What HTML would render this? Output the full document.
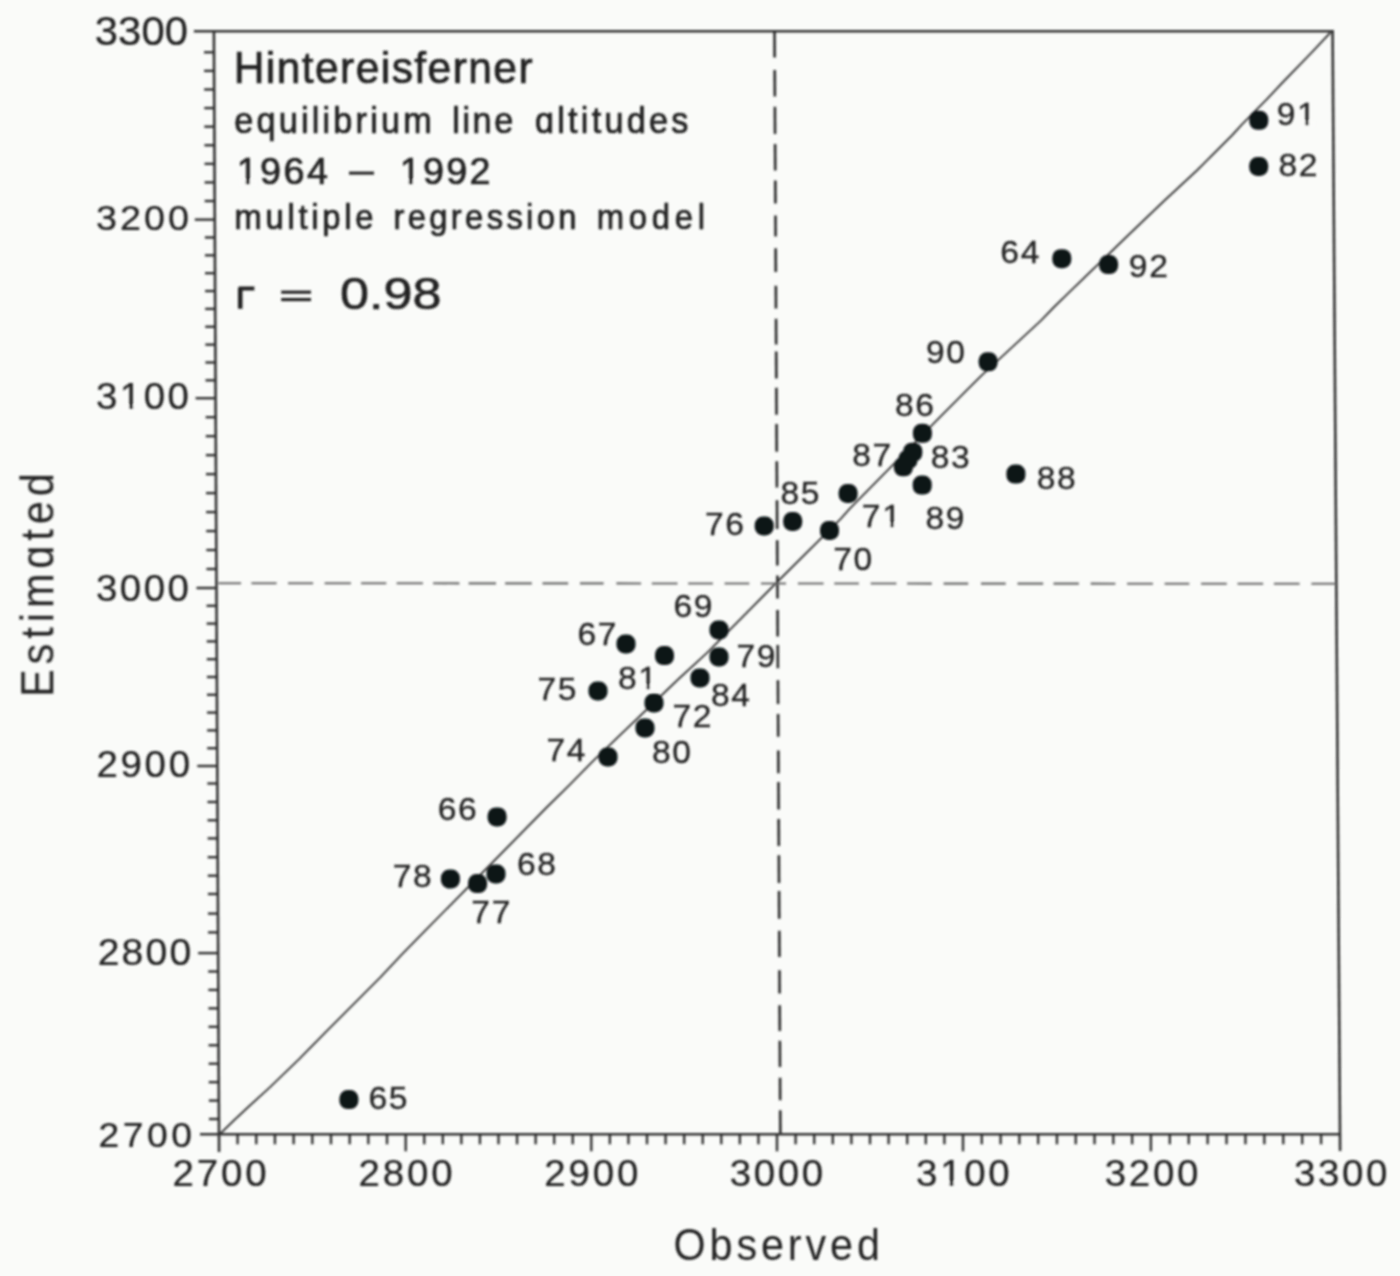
<!DOCTYPE html>
<html><head><meta charset="utf-8"><style>
html,body{margin:0;padding:0;background:#fafbf9;}
body{width:1400px;height:1276px;overflow:hidden;font-family:"Liberation Sans",sans-serif;}
svg{display:block;}
</style></head><body>
<svg width="1400" height="1276" viewBox="0 0 1400 1276">
<defs><filter id="blur" x="0" y="0" width="100%" height="100%" filterUnits="userSpaceOnUse"><feGaussianBlur stdDeviation="0.8"/></filter></defs>
<rect width="1400" height="1276" fill="#fafbf9"/>
<g id="all" filter="url(#blur)">
<g stroke="#303030" stroke-width="2.6" stroke-linecap="butt" fill="none">
<line x1="213.89" y1="30.00" x2="219.08" y2="1152"/>
<line x1="1332.59" y1="30.00" x2="1340.11" y2="1151"/>
<line x1="193.90" y1="31.2" x2="1333.60" y2="31.2"/>
<line x1="200.00" y1="1134.3" x2="1341.00" y2="1134.3"/>
</g>
<g stroke="#303030" stroke-width="2.4" fill="none">
<line x1="208.93" y1="1119.02" x2="218.93" y2="1119.02"/>
<line x1="208.84" y1="1100.58" x2="218.84" y2="1100.58"/>
<line x1="208.76" y1="1082.14" x2="218.76" y2="1082.14"/>
<line x1="208.67" y1="1063.70" x2="218.67" y2="1063.70"/>
<line x1="208.59" y1="1045.26" x2="218.59" y2="1045.26"/>
<line x1="208.50" y1="1026.82" x2="218.50" y2="1026.82"/>
<line x1="208.42" y1="1008.38" x2="218.42" y2="1008.38"/>
<line x1="208.33" y1="989.94" x2="218.33" y2="989.94"/>
<line x1="208.25" y1="971.50" x2="218.25" y2="971.50"/>
<line x1="198.16" y1="953.10" x2="218.16" y2="953.10"/>
<line x1="208.07" y1="932.40" x2="218.07" y2="932.40"/>
<line x1="207.98" y1="913.60" x2="217.98" y2="913.60"/>
<line x1="207.89" y1="894.00" x2="217.89" y2="894.00"/>
<line x1="207.80" y1="875.70" x2="217.80" y2="875.70"/>
<line x1="207.72" y1="857.20" x2="217.72" y2="857.20"/>
<line x1="207.63" y1="838.40" x2="217.63" y2="838.40"/>
<line x1="207.55" y1="820.30" x2="217.55" y2="820.30"/>
<line x1="207.46" y1="802.00" x2="217.46" y2="802.00"/>
<line x1="207.38" y1="783.50" x2="217.38" y2="783.50"/>
<line x1="197.30" y1="766.00" x2="217.30" y2="766.00"/>
<line x1="207.21" y1="748.20" x2="217.21" y2="748.20"/>
<line x1="207.13" y1="730.40" x2="217.13" y2="730.40"/>
<line x1="207.05" y1="712.60" x2="217.05" y2="712.60"/>
<line x1="206.97" y1="694.80" x2="216.97" y2="694.80"/>
<line x1="206.89" y1="677.00" x2="216.89" y2="677.00"/>
<line x1="206.80" y1="659.20" x2="216.80" y2="659.20"/>
<line x1="206.72" y1="641.40" x2="216.72" y2="641.40"/>
<line x1="206.64" y1="623.60" x2="216.64" y2="623.60"/>
<line x1="206.56" y1="605.80" x2="216.56" y2="605.80"/>
<line x1="196.47" y1="588.00" x2="216.47" y2="588.00"/>
<line x1="206.39" y1="569.02" x2="216.39" y2="569.02"/>
<line x1="206.30" y1="550.04" x2="216.30" y2="550.04"/>
<line x1="206.21" y1="531.06" x2="216.21" y2="531.06"/>
<line x1="206.12" y1="512.08" x2="216.12" y2="512.08"/>
<line x1="206.04" y1="493.10" x2="216.04" y2="493.10"/>
<line x1="205.95" y1="474.12" x2="215.95" y2="474.12"/>
<line x1="205.86" y1="455.14" x2="215.86" y2="455.14"/>
<line x1="205.77" y1="436.16" x2="215.77" y2="436.16"/>
<line x1="205.68" y1="417.18" x2="215.68" y2="417.18"/>
<line x1="195.60" y1="398.20" x2="215.60" y2="398.20"/>
<line x1="205.51" y1="380.34" x2="215.51" y2="380.34"/>
<line x1="205.43" y1="362.48" x2="215.43" y2="362.48"/>
<line x1="205.35" y1="344.62" x2="215.35" y2="344.62"/>
<line x1="205.27" y1="326.76" x2="215.27" y2="326.76"/>
<line x1="205.18" y1="308.90" x2="215.18" y2="308.90"/>
<line x1="205.10" y1="291.04" x2="215.10" y2="291.04"/>
<line x1="205.02" y1="273.18" x2="215.02" y2="273.18"/>
<line x1="204.94" y1="255.32" x2="214.94" y2="255.32"/>
<line x1="204.85" y1="237.46" x2="214.85" y2="237.46"/>
<line x1="194.77" y1="219.60" x2="214.77" y2="219.60"/>
<line x1="204.69" y1="201.02" x2="214.69" y2="201.02"/>
<line x1="204.60" y1="182.43" x2="214.60" y2="182.43"/>
<line x1="204.51" y1="163.84" x2="214.51" y2="163.84"/>
<line x1="204.43" y1="145.25" x2="214.43" y2="145.25"/>
<line x1="204.34" y1="126.66" x2="214.34" y2="126.66"/>
<line x1="204.26" y1="108.07" x2="214.26" y2="108.07"/>
<line x1="204.17" y1="89.48" x2="214.17" y2="89.48"/>
<line x1="204.08" y1="70.89" x2="214.08" y2="70.89"/>
<line x1="204.00" y1="52.30" x2="214.00" y2="52.30"/>
<line x1="237.58" y1="1134.30" x2="237.58" y2="1144.30"/>
<line x1="256.26" y1="1134.30" x2="256.26" y2="1144.30"/>
<line x1="274.94" y1="1134.30" x2="274.94" y2="1144.30"/>
<line x1="293.62" y1="1134.30" x2="293.62" y2="1144.30"/>
<line x1="312.30" y1="1134.30" x2="312.30" y2="1144.30"/>
<line x1="330.98" y1="1134.30" x2="330.98" y2="1144.30"/>
<line x1="349.66" y1="1134.30" x2="349.66" y2="1144.30"/>
<line x1="368.34" y1="1134.30" x2="368.34" y2="1144.30"/>
<line x1="387.02" y1="1134.30" x2="387.02" y2="1144.30"/>
<line x1="405.70" y1="1134.30" x2="405.70" y2="1151.30"/>
<line x1="424.26" y1="1134.30" x2="424.26" y2="1144.30"/>
<line x1="442.82" y1="1134.30" x2="442.82" y2="1144.30"/>
<line x1="461.38" y1="1134.30" x2="461.38" y2="1144.30"/>
<line x1="479.94" y1="1134.30" x2="479.94" y2="1144.30"/>
<line x1="498.50" y1="1134.30" x2="498.50" y2="1144.30"/>
<line x1="517.06" y1="1134.30" x2="517.06" y2="1144.30"/>
<line x1="535.62" y1="1134.30" x2="535.62" y2="1144.30"/>
<line x1="554.18" y1="1134.30" x2="554.18" y2="1144.30"/>
<line x1="572.74" y1="1134.30" x2="572.74" y2="1144.30"/>
<line x1="591.30" y1="1134.30" x2="591.30" y2="1151.30"/>
<line x1="609.87" y1="1134.30" x2="609.87" y2="1144.30"/>
<line x1="628.44" y1="1134.30" x2="628.44" y2="1144.30"/>
<line x1="647.01" y1="1134.30" x2="647.01" y2="1144.30"/>
<line x1="665.58" y1="1134.30" x2="665.58" y2="1144.30"/>
<line x1="684.15" y1="1134.30" x2="684.15" y2="1144.30"/>
<line x1="702.72" y1="1134.30" x2="702.72" y2="1144.30"/>
<line x1="721.29" y1="1134.30" x2="721.29" y2="1144.30"/>
<line x1="739.86" y1="1134.30" x2="739.86" y2="1144.30"/>
<line x1="758.43" y1="1134.30" x2="758.43" y2="1144.30"/>
<line x1="777.00" y1="1134.30" x2="777.00" y2="1151.30"/>
<line x1="795.60" y1="1134.30" x2="795.60" y2="1144.30"/>
<line x1="814.20" y1="1134.30" x2="814.20" y2="1144.30"/>
<line x1="832.80" y1="1134.30" x2="832.80" y2="1144.30"/>
<line x1="851.40" y1="1134.30" x2="851.40" y2="1144.30"/>
<line x1="870.00" y1="1134.30" x2="870.00" y2="1144.30"/>
<line x1="888.60" y1="1134.30" x2="888.60" y2="1144.30"/>
<line x1="907.20" y1="1134.30" x2="907.20" y2="1144.30"/>
<line x1="925.80" y1="1134.30" x2="925.80" y2="1144.30"/>
<line x1="944.40" y1="1134.30" x2="944.40" y2="1144.30"/>
<line x1="963.00" y1="1134.30" x2="963.00" y2="1151.30"/>
<line x1="981.79" y1="1134.30" x2="981.79" y2="1144.30"/>
<line x1="1000.58" y1="1134.30" x2="1000.58" y2="1144.30"/>
<line x1="1019.37" y1="1134.30" x2="1019.37" y2="1144.30"/>
<line x1="1038.16" y1="1134.30" x2="1038.16" y2="1144.30"/>
<line x1="1056.95" y1="1134.30" x2="1056.95" y2="1144.30"/>
<line x1="1075.74" y1="1134.30" x2="1075.74" y2="1144.30"/>
<line x1="1094.53" y1="1134.30" x2="1094.53" y2="1144.30"/>
<line x1="1113.32" y1="1134.30" x2="1113.32" y2="1144.30"/>
<line x1="1132.11" y1="1134.30" x2="1132.11" y2="1144.30"/>
<line x1="1150.90" y1="1134.30" x2="1150.90" y2="1151.30"/>
<line x1="1169.81" y1="1134.30" x2="1169.81" y2="1144.30"/>
<line x1="1188.72" y1="1134.30" x2="1188.72" y2="1144.30"/>
<line x1="1207.63" y1="1134.30" x2="1207.63" y2="1144.30"/>
<line x1="1226.54" y1="1134.30" x2="1226.54" y2="1144.30"/>
<line x1="1245.45" y1="1134.30" x2="1245.45" y2="1144.30"/>
<line x1="1264.36" y1="1134.30" x2="1264.36" y2="1144.30"/>
<line x1="1283.27" y1="1134.30" x2="1283.27" y2="1144.30"/>
<line x1="1302.18" y1="1134.30" x2="1302.18" y2="1144.30"/>
<line x1="1321.09" y1="1134.30" x2="1321.09" y2="1144.30"/>
</g>
<polyline points="219.6,1133.6 222.5,1131.5 234.6,1119.8 249.6,1105.7 269.8,1087.4 299.1,1059.1 326.4,1031.4 380.3,977.4 402.4,953.9 426.4,929.4 546.6,807.5 570.1,784.4 592.7,761.4 678.8,678.8 707,652.9 776.2,583 840.7,518.8 849.1,509.4 941.9,415.1 954.1,402.9 967.3,389.7 981.4,375.6 1040.9,320.6 1054.1,307 1069.1,292.4 1130,233.5 1163.7,201.3 1178.8,187.3 1197.4,170 1206.5,160.9 1231.9,135.5 1241.8,124.7 1266.7,99.3 1284,81 1310.6,53.6 1330.5,32.5" fill="none" stroke="#3a3a3a" stroke-width="1.9" stroke-linejoin="round"/>
<g stroke="#2c2c2c" stroke-width="2.6">
<line x1="774.50" y1="31.3" x2="774.64" y2="57.6"/>
<line x1="774.71" y1="70.1" x2="774.85" y2="96.5"/>
<line x1="774.90" y1="106.8" x2="775.05" y2="134.1"/>
<line x1="775.10" y1="144.1" x2="775.24" y2="170.5"/>
<line x1="775.29" y1="180.5" x2="775.41" y2="203.5"/>
<line x1="775.48" y1="215.6" x2="775.59" y2="236.5"/>
<line x1="775.65" y1="248.2" x2="775.78" y2="272"/>
<line x1="775.85" y1="285.8" x2="775.97" y2="308.4"/>
<line x1="776.03" y1="318.8" x2="776.16" y2="344.5"/>
<line x1="776.20" y1="351.4" x2="776.34" y2="378.4"/>
<line x1="776.39" y1="387.8" x2="776.53" y2="414.7"/>
<line x1="776.58" y1="424.1" x2="776.73" y2="451.7"/>
<line x1="776.78" y1="461.3" x2="776.92" y2="487.6"/>
<line x1="776.99" y1="500.2" x2="777.14" y2="529"/>
<line x1="777.20" y1="540.3" x2="777.33" y2="565.4"/>
<line x1="777.39" y1="575.4" x2="777.51" y2="598.6"/>
<line x1="777.57" y1="610" x2="777.71" y2="636.4"/>
<line x1="777.75" y1="645.1" x2="777.88" y2="668.3"/>
<line x1="777.94" y1="680.3" x2="778.07" y2="704.1"/>
<line x1="778.12" y1="714.1" x2="778.24" y2="736.7"/>
<line x1="778.31" y1="750.5" x2="778.43" y2="773.2"/>
<line x1="778.48" y1="782" x2="778.63" y2="809.6"/>
<line x1="778.68" y1="819" x2="778.82" y2="845.9"/>
<line x1="778.87" y1="855.3" x2="779.02" y2="882.9"/>
<line x1="779.06" y1="891" x2="779.21" y2="918.8"/>
<line x1="779.27" y1="930.7" x2="779.41" y2="957"/>
<line x1="779.48" y1="970.2" x2="779.60" y2="993.4"/>
<line x1="779.66" y1="1005.3" x2="779.80" y2="1031"/>
<line x1="779.85" y1="1040.7" x2="779.99" y2="1067"/>
<line x1="780.05" y1="1077.7" x2="780.17" y2="1100.3"/>
<line x1="780.22" y1="1110.3" x2="780.35" y2="1134"/>
</g>
<g stroke="#6a6a6a" stroke-width="2.1">
<line x1="218.3" y1="583.20" x2="241.1" y2="583.21"/>
<line x1="251.4" y1="583.22" x2="276.6" y2="583.23"/>
<line x1="288" y1="583.24" x2="313.1" y2="583.25"/>
<line x1="324.6" y1="583.26" x2="350.9" y2="583.27"/>
<line x1="361.1" y1="583.28" x2="386.3" y2="583.29"/>
<line x1="396.6" y1="583.30" x2="422.9" y2="583.31"/>
<line x1="433.1" y1="583.32" x2="459.4" y2="583.33"/>
<line x1="468.6" y1="583.33" x2="496" y2="583.35"/>
<line x1="505.1" y1="583.35" x2="531.8" y2="583.37"/>
<line x1="542.5" y1="583.37" x2="568.2" y2="583.39"/>
<line x1="580" y1="583.39" x2="603.6" y2="583.41"/>
<line x1="616.4" y1="583.41" x2="641.1" y2="583.43"/>
<line x1="651.8" y1="583.43" x2="677.5" y2="583.45"/>
<line x1="688.2" y1="583.45" x2="712.9" y2="583.47"/>
<line x1="724.6" y1="583.47" x2="749.3" y2="583.48"/>
<line x1="761" y1="583.49" x2="786" y2="583.50"/>
<line x1="797.9" y1="583.51" x2="823.6" y2="583.52"/>
<line x1="834.3" y1="583.53" x2="858.9" y2="583.54"/>
<line x1="870.7" y1="583.55" x2="896.4" y2="583.56"/>
<line x1="907.1" y1="583.57" x2="931.8" y2="583.58"/>
<line x1="943.6" y1="583.59" x2="968.2" y2="583.60"/>
<line x1="981" y1="583.61" x2="1005.7" y2="583.62"/>
<line x1="1017.5" y1="583.63" x2="1043.2" y2="583.64"/>
<line x1="1053.5" y1="583.65" x2="1078.9" y2="583.66"/>
<line x1="1090.7" y1="583.67" x2="1115.4" y2="583.68"/>
<line x1="1127.1" y1="583.69" x2="1152.9" y2="583.70"/>
<line x1="1164.6" y1="583.71" x2="1189.3" y2="583.72"/>
<line x1="1201.1" y1="583.73" x2="1226.8" y2="583.74"/>
<line x1="1237.5" y1="583.75" x2="1263.2" y2="583.76"/>
<line x1="1273.9" y1="583.77" x2="1299.6" y2="583.78"/>
<line x1="1311.4" y1="583.79" x2="1336" y2="583.80"/>
</g>
<g fill="#0d1319">
<rect x="1249.30" y="110.80" width="19.0" height="19.0" rx="8.2"/>
<rect x="1249.20" y="157.00" width="19.0" height="19.0" rx="8.2"/>
<rect x="1052.30" y="249.20" width="19.0" height="19.0" rx="8.2"/>
<rect x="1099.10" y="255.10" width="19.0" height="19.0" rx="8.2"/>
<rect x="978.60" y="352.30" width="19.0" height="19.0" rx="8.2"/>
<rect x="912.90" y="423.80" width="19.0" height="19.0" rx="8.2"/>
<rect x="903.30" y="442.70" width="19.0" height="19.0" rx="8.2"/>
<rect x="898.50" y="450.00" width="19.0" height="19.0" rx="8.2"/>
<rect x="893.90" y="457.30" width="19.0" height="19.0" rx="8.2"/>
<rect x="912.70" y="475.60" width="19.0" height="19.0" rx="8.2"/>
<rect x="1006.40" y="464.60" width="19.0" height="19.0" rx="8.2"/>
<rect x="838.60" y="484.00" width="19.0" height="19.0" rx="8.2"/>
<rect x="754.70" y="516.50" width="19.0" height="19.0" rx="8.2"/>
<rect x="783.20" y="512.00" width="19.0" height="19.0" rx="8.2"/>
<rect x="820.00" y="521.00" width="19.0" height="19.0" rx="8.2"/>
<rect x="709.50" y="620.50" width="19.0" height="19.0" rx="8.2"/>
<rect x="709.50" y="647.50" width="19.0" height="19.0" rx="8.2"/>
<rect x="616.50" y="634.50" width="19.0" height="19.0" rx="8.2"/>
<rect x="655.00" y="646.10" width="19.0" height="19.0" rx="8.2"/>
<rect x="690.50" y="668.50" width="19.0" height="19.0" rx="8.2"/>
<rect x="588.50" y="681.50" width="19.0" height="19.0" rx="8.2"/>
<rect x="644.50" y="693.50" width="19.0" height="19.0" rx="8.2"/>
<rect x="635.50" y="718.50" width="19.0" height="19.0" rx="8.2"/>
<rect x="598.50" y="747.50" width="19.0" height="19.0" rx="8.2"/>
<rect x="487.60" y="807.40" width="19.0" height="19.0" rx="8.2"/>
<rect x="486.50" y="864.50" width="19.0" height="19.0" rx="8.2"/>
<rect x="468.10" y="874.10" width="19.0" height="19.0" rx="8.2"/>
<rect x="440.90" y="869.50" width="19.0" height="19.0" rx="8.2"/>
<rect x="339.40" y="1090.10" width="19.0" height="19.0" rx="8.2"/>
</g>
<g font-family="Liberation Sans, sans-serif">
<g transform="translate(94.79,44.68) scale(1.0500,1)"><text font-size="39.79" letter-spacing="0.063" fill="#222222" stroke="#222222" stroke-width="0.24" stroke-linejoin="round">3300</text></g>
<g transform="translate(96.02,230.14) scale(1.0500,1)"><text font-size="35.90" letter-spacing="2.879" fill="#222222" stroke="#222222" stroke-width="0.24" stroke-linejoin="round">3200</text></g>
<g transform="translate(96.00,409.48) scale(1.0500,1)"><text font-size="36.59" letter-spacing="2.377" fill="#222222" stroke="#222222" stroke-width="0.24" stroke-linejoin="round">3100</text><rect x="24.25" y="-3.95" width="7.44" height="6.57" fill="#fafbf9"/><rect x="35.40" y="-3.95" width="7.24" height="6.57" fill="#fafbf9"/></g>
<g transform="translate(96.00,601.08) scale(1.0500,1)"><text font-size="36.59" letter-spacing="2.377" fill="#222222" stroke="#222222" stroke-width="0.24" stroke-linejoin="round">3000</text></g>
<g transform="translate(96.50,777.08) scale(1.0500,1)"><text font-size="36.59" letter-spacing="2.567" fill="#222222" stroke="#222222" stroke-width="0.24" stroke-linejoin="round">2900</text></g>
<g transform="translate(97.66,965.42) scale(1.0500,1)"><text font-size="37.29" letter-spacing="2.068" fill="#222222" stroke="#222222" stroke-width="0.24" stroke-linejoin="round">2800</text></g>
<g transform="translate(98.55,1146.60) scale(1.0500,1)"><text font-size="35.48" letter-spacing="3.366" fill="#222222" stroke="#222222" stroke-width="0.24" stroke-linejoin="round">2700</text></g>
<g transform="translate(172.40,1185.73) scale(1.0500,1)"><text font-size="36.59" letter-spacing="2.758" fill="#222222" stroke="#222222" stroke-width="0.24" stroke-linejoin="round">2700</text></g>
<g transform="translate(358.40,1185.73) scale(1.0500,1)"><text font-size="36.59" letter-spacing="2.758" fill="#222222" stroke="#222222" stroke-width="0.24" stroke-linejoin="round">2800</text></g>
<g transform="translate(544.30,1185.73) scale(1.0500,1)"><text font-size="36.59" letter-spacing="2.758" fill="#222222" stroke="#222222" stroke-width="0.24" stroke-linejoin="round">2900</text></g>
<g transform="translate(729.70,1185.73) scale(1.0500,1)"><text font-size="36.59" letter-spacing="2.567" fill="#222222" stroke="#222222" stroke-width="0.24" stroke-linejoin="round">3000</text></g>
<g transform="translate(916.10,1185.73) scale(1.0500,1)"><text font-size="36.59" letter-spacing="2.567" fill="#222222" stroke="#222222" stroke-width="0.24" stroke-linejoin="round">3100</text><rect x="24.44" y="-3.95" width="7.44" height="6.57" fill="#fafbf9"/><rect x="35.59" y="-3.95" width="7.24" height="6.57" fill="#fafbf9"/></g>
<g transform="translate(1104.80,1185.73) scale(1.0500,1)"><text font-size="36.59" letter-spacing="2.567" fill="#222222" stroke="#222222" stroke-width="0.24" stroke-linejoin="round">3200</text></g>
<g transform="translate(1293.90,1185.73) scale(1.0500,1)"><text font-size="36.59" letter-spacing="2.567" fill="#222222" stroke="#222222" stroke-width="0.24" stroke-linejoin="round">3300</text></g>
<g transform="translate(1276.72,124.60) scale(1.0500,1)"><text font-size="32.00" letter-spacing="1.560" fill="#222222" stroke="#222222" stroke-width="0.29" stroke-linejoin="round">91</text><rect x="20.59" y="-3.63" width="6.59" height="6.28" fill="#fafbf9"/><rect x="30.46" y="-3.63" width="6.42" height="6.28" fill="#fafbf9"/></g>
<g transform="translate(1278.55,176.10) scale(1.0500,1)"><text font-size="32.00" letter-spacing="1.560" fill="#222222" stroke="#222222" stroke-width="0.29" stroke-linejoin="round">82</text></g>
<g transform="translate(1000.32,263.30) scale(1.0500,1)"><text font-size="32.00" letter-spacing="1.560" fill="#222222" stroke="#222222" stroke-width="0.29" stroke-linejoin="round">64</text></g>
<g transform="translate(1128.83,277.40) scale(1.0500,1)"><text font-size="32.00" letter-spacing="1.560" fill="#222222" stroke="#222222" stroke-width="0.29" stroke-linejoin="round">92</text></g>
<g transform="translate(926.02,363.10) scale(1.0500,1)"><text font-size="32.00" letter-spacing="1.560" fill="#222222" stroke="#222222" stroke-width="0.29" stroke-linejoin="round">90</text></g>
<g transform="translate(894.95,416.10) scale(1.0500,1)"><text font-size="32.00" letter-spacing="1.560" fill="#222222" stroke="#222222" stroke-width="0.29" stroke-linejoin="round">86</text></g>
<g transform="translate(930.65,467.50) scale(1.0500,1)"><text font-size="32.00" letter-spacing="1.560" fill="#222222" stroke="#222222" stroke-width="0.29" stroke-linejoin="round">83</text></g>
<g transform="translate(852.15,465.50) scale(1.0500,1)"><text font-size="32.00" letter-spacing="1.560" fill="#222222" stroke="#222222" stroke-width="0.29" stroke-linejoin="round">87</text></g>
<g transform="translate(925.55,528.60) scale(1.0500,1)"><text font-size="32.00" letter-spacing="1.560" fill="#222222" stroke="#222222" stroke-width="0.29" stroke-linejoin="round">89</text></g>
<g transform="translate(1036.65,488.80) scale(1.0500,1)"><text font-size="32.00" letter-spacing="1.560" fill="#222222" stroke="#222222" stroke-width="0.29" stroke-linejoin="round">88</text></g>
<g transform="translate(861.82,526.85) scale(1.0500,1)"><text font-size="32.00" letter-spacing="1.560" fill="#222222" stroke="#222222" stroke-width="0.29" stroke-linejoin="round">71</text><rect x="20.59" y="-3.63" width="6.59" height="6.28" fill="#fafbf9"/><rect x="30.46" y="-3.63" width="6.42" height="6.28" fill="#fafbf9"/></g>
<g transform="translate(704.92,535.10) scale(1.0500,1)"><text font-size="32.00" letter-spacing="1.560" fill="#222222" stroke="#222222" stroke-width="0.29" stroke-linejoin="round">76</text></g>
<g transform="translate(780.45,504.00) scale(1.0500,1)"><text font-size="32.00" letter-spacing="1.560" fill="#222222" stroke="#222222" stroke-width="0.29" stroke-linejoin="round">85</text></g>
<g transform="translate(833.22,570.40) scale(1.0500,1)"><text font-size="32.00" letter-spacing="1.560" fill="#222222" stroke="#222222" stroke-width="0.29" stroke-linejoin="round">70</text></g>
<g transform="translate(673.42,617.00) scale(1.0500,1)"><text font-size="32.00" letter-spacing="1.560" fill="#222222" stroke="#222222" stroke-width="0.29" stroke-linejoin="round">69</text></g>
<g transform="translate(736.42,666.50) scale(1.0500,1)"><text font-size="32.00" letter-spacing="1.560" fill="#222222" stroke="#222222" stroke-width="0.29" stroke-linejoin="round">79</text></g>
<g transform="translate(577.42,644.50) scale(1.0500,1)"><text font-size="32.00" letter-spacing="1.560" fill="#222222" stroke="#222222" stroke-width="0.29" stroke-linejoin="round">67</text></g>
<g transform="translate(617.95,688.50) scale(1.0500,1)"><text font-size="32.00" letter-spacing="1.560" fill="#222222" stroke="#222222" stroke-width="0.29" stroke-linejoin="round">81</text><rect x="20.59" y="-3.63" width="6.59" height="6.28" fill="#fafbf9"/><rect x="30.46" y="-3.63" width="6.42" height="6.28" fill="#fafbf9"/></g>
<g transform="translate(710.95,705.50) scale(1.0500,1)"><text font-size="32.00" letter-spacing="1.560" fill="#222222" stroke="#222222" stroke-width="0.29" stroke-linejoin="round">84</text></g>
<g transform="translate(537.42,700.00) scale(1.0500,1)"><text font-size="32.00" letter-spacing="1.560" fill="#222222" stroke="#222222" stroke-width="0.29" stroke-linejoin="round">75</text></g>
<g transform="translate(672.42,727.25) scale(1.0500,1)"><text font-size="32.00" letter-spacing="1.560" fill="#222222" stroke="#222222" stroke-width="0.29" stroke-linejoin="round">72</text></g>
<g transform="translate(651.95,763.00) scale(1.0500,1)"><text font-size="32.00" letter-spacing="1.560" fill="#222222" stroke="#222222" stroke-width="0.29" stroke-linejoin="round">80</text></g>
<g transform="translate(546.42,761.25) scale(1.0500,1)"><text font-size="32.00" letter-spacing="1.560" fill="#222222" stroke="#222222" stroke-width="0.29" stroke-linejoin="round">74</text></g>
<g transform="translate(437.73,820.00) scale(1.0500,1)"><text font-size="32.00" letter-spacing="1.560" fill="#222222" stroke="#222222" stroke-width="0.29" stroke-linejoin="round">66</text></g>
<g transform="translate(517.02,875.30) scale(1.0500,1)"><text font-size="32.00" letter-spacing="1.560" fill="#222222" stroke="#222222" stroke-width="0.29" stroke-linejoin="round">68</text></g>
<g transform="translate(471.32,923.45) scale(1.0500,1)"><text font-size="32.00" letter-spacing="1.560" fill="#222222" stroke="#222222" stroke-width="0.29" stroke-linejoin="round">77</text></g>
<g transform="translate(392.73,886.70) scale(1.0500,1)"><text font-size="32.00" letter-spacing="1.560" fill="#222222" stroke="#222222" stroke-width="0.29" stroke-linejoin="round">78</text></g>
<g transform="translate(368.43,1108.90) scale(1.0500,1)"><text font-size="32.00" letter-spacing="1.560" fill="#222222" stroke="#222222" stroke-width="0.29" stroke-linejoin="round">65</text></g>
<g transform="translate(233.68,83.40) scale(0.9500,1)"><text font-size="44.80" letter-spacing="1.490" fill="#222222" stroke="#222222" stroke-width="0.74" stroke-linejoin="round">Hintereisferner</text></g>
<g transform="translate(234.23,133.40) scale(0.9500,1)"><text font-size="36.00" letter-spacing="3.375" fill="#222222" stroke="#222222" stroke-width="0.74" stroke-linejoin="round">equilibrium</text></g>
<g transform="translate(452.16,133.40) scale(0.9500,1)"><text font-size="36.00" letter-spacing="2.767" fill="#222222" stroke="#222222" stroke-width="0.74" stroke-linejoin="round">line</text></g>
<g transform="translate(534.93,133.40) scale(0.9500,1)"><text font-size="36.00" letter-spacing="3.428" fill="#222222" stroke="#222222" stroke-width="0.74" stroke-linejoin="round">ɑltitudes</text></g>
<g transform="translate(236.64,184.00) scale(1.0200,1)"><text font-size="37.00" letter-spacing="2.399" fill="#222222" stroke="#222222" stroke-width="0.69" stroke-linejoin="round">1964</text><rect x="1.32" y="-4.21" width="7.63" height="7.05" fill="#fafbf9"/><rect x="12.93" y="-4.21" width="7.43" height="7.05" fill="#fafbf9"/></g>
<g transform="translate(399.64,184.00) scale(1.0200,1)"><text font-size="37.00" letter-spacing="2.265" fill="#222222" stroke="#222222" stroke-width="0.69" stroke-linejoin="round">1992</text><rect x="1.32" y="-4.21" width="7.63" height="7.05" fill="#fafbf9"/><rect x="12.93" y="-4.21" width="7.43" height="7.05" fill="#fafbf9"/></g>
<g transform="translate(234.55,228.90) scale(0.9500,1)"><text font-size="34.50" letter-spacing="3.931" fill="#222222" stroke="#222222" stroke-width="0.74" stroke-linejoin="round">multiple</text></g>
<g transform="translate(393.45,228.90) scale(0.9500,1)"><text font-size="34.50" letter-spacing="3.528" fill="#222222" stroke="#222222" stroke-width="0.74" stroke-linejoin="round">regression</text></g>
<g transform="translate(596.85,228.90) scale(0.9500,1)"><text font-size="34.50" letter-spacing="4.985" fill="#222222" stroke="#222222" stroke-width="0.74" stroke-linejoin="round">model</text></g>
<g transform="translate(339.97,309.00) scale(1.1858,1)"><text font-size="44.00" fill="#222222" stroke="#222222" stroke-width="0.59" stroke-linejoin="round">0.98</text></g>
<g transform="translate(673.46,1259.80) scale(0.9500,1)"><text font-size="43.50" letter-spacing="4.120" fill="#222222">Observed</text></g>
<path d="M238.0,308.8 V288.4 Q238.0,286.6 239.8,286.6 H254.4 V290.6 H242.5 V308.8 Z" fill="#222222"/>
<rect x="281.2" y="290.6" width="29.8" height="3.1" fill="#222222"/>
<rect x="281.2" y="298.0" width="29.8" height="3.1" fill="#222222"/>
<rect x="349" y="171.6" width="25" height="3" fill="#222222"/>
<g transform="translate(53.3,696.93) rotate(-90)"><g transform="translate(0.00,0.00) scale(0.9000,1)"><text font-size="46.00" letter-spacing="5.525" fill="#222222">Estimɑted</text></g></g>
</g>
</g>
</svg>
</body></html>
